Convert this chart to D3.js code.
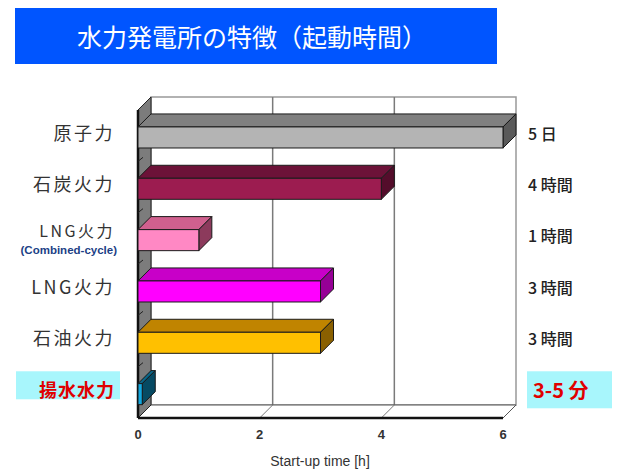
<!DOCTYPE html>
<html>
<head>
<meta charset="utf-8">
<script src="https://cdn.jsdelivr.net/npm/d3@7"></script>
<style>
  body { margin: 0; background: #fff; }
  svg { display: block; }
  text { font-family: "Noto Sans CJK JP", "Noto Sans", sans-serif; }
</style>
</head>
<body>
<div id="chart"></div>
<script>
// data
const categories = ["原子力", "石炭火力", "LNG火力", "LNG火力", "石油火力", "揚水水力"];
const subLabels = ["", "", "(Combined-cycle)", "", "", ""];
const startupHours = [6, 4, 1, 3, 3, 0.07]; // 原子力 (5 days) is cut at the axis end
const durationLabels = ["5 日", "4 時間", "1 時間", "3 時間", "3 時間", "3-5 分"];
const xTicks = [0, 2, 4, 6];
const titleText = "水力発電所の特徴（起動時間）";
const axisTitle = "Start-up time [h]";

// colours per bar: front, top, side
const frontColors = ["#b4b4b4", "#9c1c50", "#ff88c4", "#ff00ff", "#ffc000", "#12a8e0"];
const topColors   = ["#808080", "#6c1238", "#d0608e", "#c800c8", "#c08400", "#0a6688"];
const sideColors  = ["#5a5a5a", "#540d2b", "#8c3a5c", "#960096", "#8a6000", "#064a63"];

const W = 628, H = 472;
const depth = 13; // 3d offset

const svg = d3.select("#chart").append("svg")
  .attr("width", W).attr("height", H);

// title bar
svg.append("rect")
  .attr("x", 15).attr("y", 8).attr("width", 482).attr("height", 56)
  .attr("fill", "#0055ff");
svg.append("text")
  .attr("x", 252).attr("y", 36)
  .attr("text-anchor", "middle").attr("dominant-baseline", "central")
  .attr("fill", "#fff").style("font-size", "25px")
  .text(titleText);

// scales (front plane)
const x = d3.scaleLinear().domain([0, 6]).range([138, 503]);
const y = d3.scaleBand().domain(d3.range(categories.length)).range([110, 418]);
const bw = y.bandwidth();
const x0 = x(0), xMax = x(6);
const yTop = y.range()[0], yBot = y.range()[1];

// back wall
svg.append("rect")
  .attr("x", x0 + depth).attr("y", yTop - depth)
  .attr("width", xMax - x0).attr("height", yBot - yTop)
  .attr("fill", "#fff").attr("stroke", "#999").attr("stroke-width", 1.5);

// gridlines on back wall and floor
xTicks.filter(t => t > 0 && t < 6).forEach(t => {
  svg.append("line")
    .attr("x1", x(t) + depth).attr("x2", x(t) + depth)
    .attr("y1", yTop - depth).attr("y2", yBot - depth)
    .attr("stroke", "#7a7a7a").attr("stroke-width", 1.5);
});

// floor
svg.append("path")
  .attr("d", `M${x0},${yBot}L${x0 + depth},${yBot - depth}L${xMax + depth},${yBot - depth}L${xMax},${yBot}Z`)
  .attr("fill", "#fff").attr("stroke", "#555").attr("stroke-width", 1);
xTicks.filter(t => t > 0 && t < 6).forEach(t => {
  svg.append("line")
    .attr("x1", x(t) + depth).attr("y1", yBot - depth)
    .attr("x2", x(t)).attr("y2", yBot)
    .attr("stroke", "#7a7a7a").attr("stroke-width", 1);
});
svg.append("line")
  .attr("x1", x0).attr("x2", xMax).attr("y1", yBot).attr("y2", yBot)
  .attr("stroke", "#111").attr("stroke-width", 2.5);

// left wall
svg.append("path")
  .attr("d", `M${x0},${yTop}L${x0 + depth},${yTop - depth}L${x0 + depth},${yBot - depth}L${x0},${yBot}Z`)
  .attr("fill", "#7c7c7c").attr("stroke", "#222").attr("stroke-width", 1);
svg.append("line")
  .attr("x1", x0).attr("x2", x0).attr("y1", yTop).attr("y2", yBot)
  .attr("stroke", "#111").attr("stroke-width", 2.5);
// little ticks on the wall between categories
d3.range(1, categories.length).forEach(i => {
  const yy = y(i);
  svg.append("line")
    .attr("x1", x0).attr("y1", yy)
    .attr("x2", x0 + 5).attr("y2", yy - 4)
    .attr("stroke", "#222").attr("stroke-width", 1);
});

// bars
categories.forEach((c, i) => {
  const v = startupHours[i];
  const by = y(i) + bw * 0.33;
  const bh = bw * 0.41;
  const bx = x(v);
  const g = svg.append("g").attr("stroke", "#1a1a1a").attr("stroke-width", 1);
  // top
  g.append("path")
    .attr("d", `M${x0},${by}L${x0 + depth},${by - depth}L${bx + depth},${by - depth}L${bx},${by}Z`)
    .attr("fill", topColors[i]);
  // side
  g.append("path")
    .attr("d", `M${bx},${by}L${bx + depth},${by - depth}L${bx + depth},${by + bh - depth}L${bx},${by + bh}Z`)
    .attr("fill", sideColors[i]);
  // front
  g.append("rect")
    .attr("x", x0).attr("y", by)
    .attr("width", bx - x0).attr("height", bh)
    .attr("fill", frontColors[i]);
});

// category labels (left)
const last = categories.length - 1;
svg.append("rect")
  .attr("x", 16).attr("y", y(last) + bw * 0.09)
  .attr("width", 104).attr("height", 28)
  .attr("fill", "#a8f6fc");
categories.forEach((c, i) => {
  const isPump = i === last;
  const cy = y(i) + bw * (subLabels[i] ? 0.34 : 0.43);
  svg.append("text")
    .attr("x", 115).attr("y", cy)
    .attr("text-anchor", "end").attr("dominant-baseline", "central")
    .attr("fill", isPump ? "#e00000" : "#333")
    .style("font-size", subLabels[i] ? "16px" : "18px")
    .style("font-weight", isPump ? "bold" : "normal")
    .style("letter-spacing", isPump ? "1px" : "2.5px")
    .text(c);
  if (subLabels[i]) {
    svg.append("text")
      .attr("x", 117).attr("y", cy + 20)
      .attr("text-anchor", "end").attr("dominant-baseline", "central")
      .attr("fill", "#1c3f86")
      .style("font-size", "11.5px").style("font-weight", "bold")
      .style("font-family", "Liberation Sans, Arial, sans-serif")
      .text(subLabels[i]);
  }
});

// duration labels (right)
svg.append("rect")
  .attr("x", 527).attr("y", y(last) + bw * 0.09)
  .attr("width", 85).attr("height", 37)
  .attr("fill", "#a8f6fc");
durationLabels.forEach((d, i) => {
  const isPump = i === last;
  svg.append("text")
    .attr("x", isPump ? 533 : 528).attr("y", y(i) + bw * 0.44)
    .attr("dominant-baseline", "central")
    .attr("fill", isPump ? "#e00000" : "#222")
    .style("font-size", isPump ? "20px" : "16px")
    .style("font-weight", isPump ? "bold" : "500")
    .text(d);
});

// x axis tick labels
xTicks.forEach(t => {
  svg.append("text")
    .attr("x", x(t)).attr("y", 434)
    .attr("text-anchor", "middle").attr("dominant-baseline", "central")
    .attr("fill", "#333")
    .style("font-size", "13px").style("font-weight", "bold")
    .style("font-family", "Liberation Sans, Arial, sans-serif")
    .text(t);
});
svg.append("text")
  .attr("x", 320).attr("y", 461)
  .attr("text-anchor", "middle").attr("dominant-baseline", "central")
  .attr("fill", "#333")
  .style("font-size", "14px")
  .style("font-family", "Liberation Sans, Arial, sans-serif")
  .text(axisTitle);
</script>
</body>
</html>
